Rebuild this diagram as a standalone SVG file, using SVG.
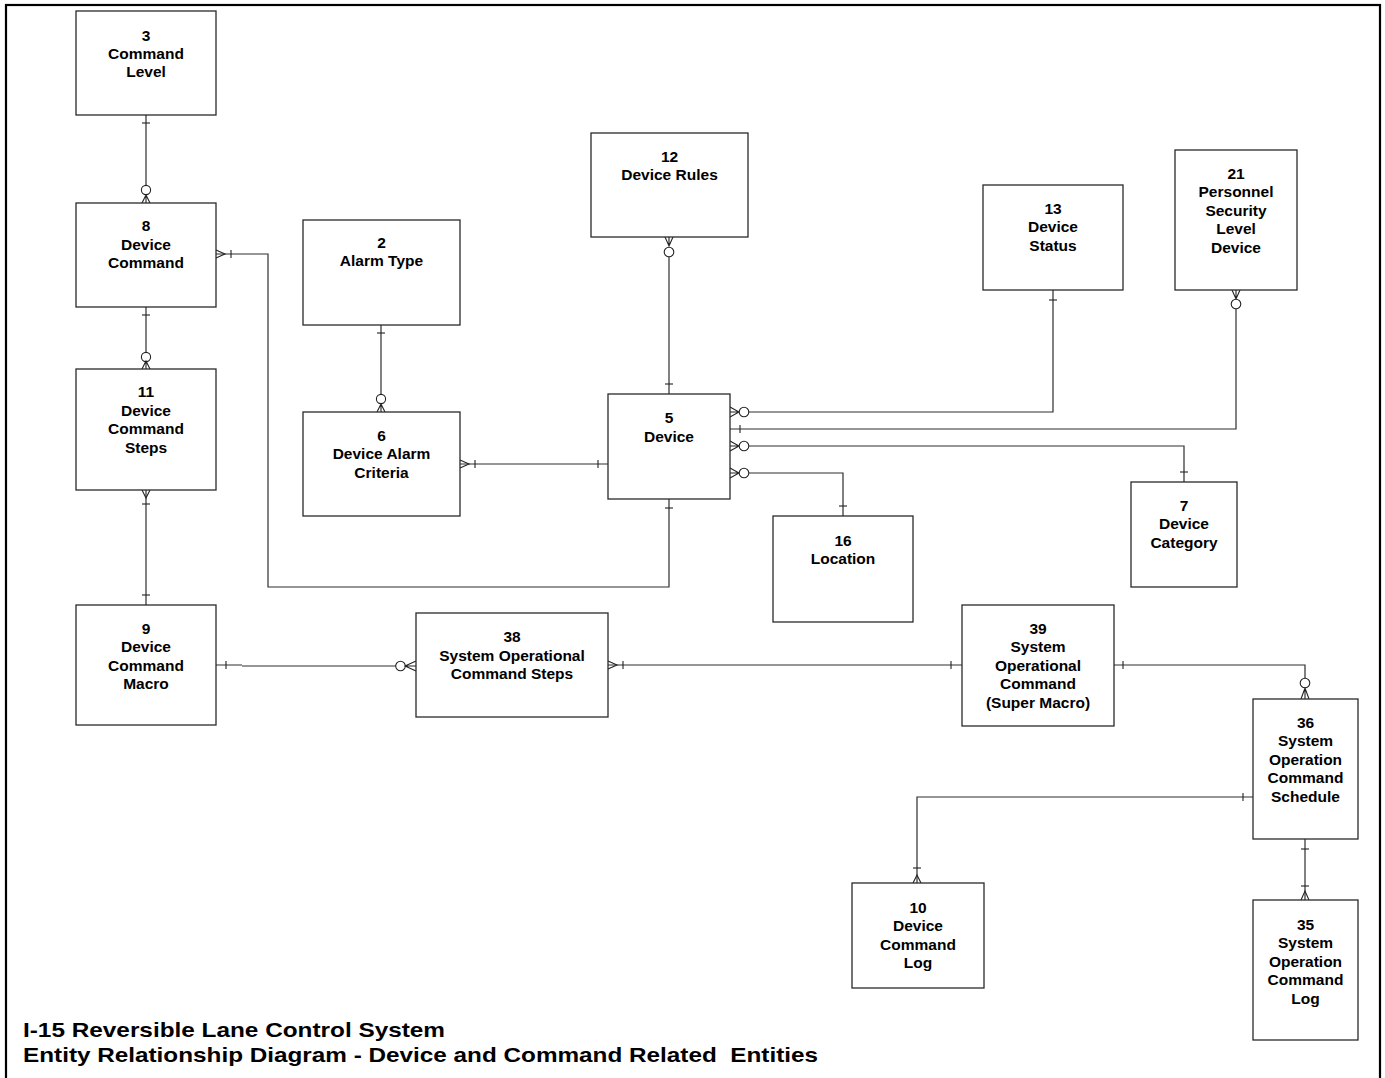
<svg xmlns="http://www.w3.org/2000/svg" width="1385" height="1078" viewBox="0 0 1385 1078">
<style>
.box{fill:#fff;stroke:#2a2a2a;stroke-width:1.3}
.t{font-family:"Liberation Sans",Arial,sans-serif;font-weight:bold;font-size:15.5px;fill:#000;text-anchor:middle}
.title{font-family:"Liberation Sans",Arial,sans-serif;font-weight:bold;font-size:21px;fill:#000}
.ln{fill:none;stroke:#2e2e2e;stroke-width:1.2}
.mk{fill:none;stroke:#222;stroke-width:1.1}
.o{fill:#fff;stroke:#222;stroke-width:1.1}
</style>
<rect x="0" y="0" width="1385" height="1078" fill="#fff"/>
<rect x="6" y="5" width="1374" height="1090" fill="none" stroke="#000" stroke-width="2.2"/>

<g id="connectors">
  <g id="c-3-8">
    <path class="ln" d="M146,115 V186"/>
    <path class="mk" d="M142,123 H150"/>
    <circle class="o" cx="146" cy="190" r="4.6"/>
    <path class="mk" d="M142,203 L146,195 L150,203 M146,195 V203"/>
  </g>
  <g id="c-8-11">
    <path class="ln" d="M146,307 V352"/>
    <path class="mk" d="M142,315 H150"/>
    <circle class="o" cx="146" cy="357" r="4.6"/>
    <path class="mk" d="M142,369 L146,361 L150,369 M146,361 V369"/>
  </g>
  <g id="c-11-9">
    <path class="ln" d="M146,490 V605"/>
    <path class="mk" d="M142,490 L146,498 L150,490"/>
    <path class="mk" d="M142,504 H150"/>
    <path class="mk" d="M142,595 H150"/>
  </g>
  <g id="c-8-5">
    <path class="ln" d="M216,254 H268 V587 H669 V499"/>
    <path class="mk" d="M216,250 L225,254 L216,258"/>
    <path class="mk" d="M231,250 V258"/>
    <path class="mk" d="M665,508 H673"/>
  </g>
  <g id="c-2-6">
    <path class="ln" d="M381,325 V395"/>
    <path class="mk" d="M377,333 H385"/>
    <circle class="o" cx="381" cy="399" r="4.6"/>
    <path class="mk" d="M377,412 L381,404 L385,412 M381,404 V412"/>
  </g>
  <g id="c-6-5">
    <path class="ln" d="M460,464 H608"/>
    <path class="mk" d="M460,460 L469,464 L460,468"/>
    <path class="mk" d="M475,460 V468"/>
    <path class="mk" d="M598,460 V468"/>
  </g>
  <g id="c-12-5">
    <path class="ln" d="M669,257 V394"/>
    <path class="mk" d="M665,237 L669,246 L673,237 M669,237 V246"/>
    <circle class="o" cx="669" cy="252" r="4.8"/>
    <path class="mk" d="M665,384 H673"/>
  </g>
  <g id="c-5-13">
    <path class="ln" d="M748.5,412 H1053 V290"/>
    <path class="mk" d="M730,407 L739,412 L730,417 M730,412 H739"/>
    <circle class="o" cx="744" cy="412" r="4.8"/>
    <path class="mk" d="M1049,300 H1057"/>
  </g>
  <g id="c-5-21">
    <path class="ln" d="M730,429 H1236 V308.5"/>
    <path class="mk" d="M740,425 V433"/>
    <path class="mk" d="M1232,290 L1236,299 L1240,290 M1236,290 V299"/>
    <circle class="o" cx="1236" cy="304" r="4.8"/>
  </g>
  <g id="c-5-7">
    <path class="ln" d="M748.5,446 H1184 V482"/>
    <path class="mk" d="M730,441 L739,446 L730,451 M730,446 H739"/>
    <circle class="o" cx="744" cy="446" r="4.8"/>
    <path class="mk" d="M1180,472 H1188"/>
  </g>
  <g id="c-5-16">
    <path class="ln" d="M748.5,473 H843 V516"/>
    <path class="mk" d="M730,468 L739,473 L730,478 M730,473 H739"/>
    <circle class="o" cx="744" cy="473" r="4.8"/>
    <path class="mk" d="M839,506 H847"/>
  </g>
  <g id="c-9-38">
    <path class="ln" d="M216,665 H242 M242,666 H396"/>
    <path class="mk" d="M226,661 V669"/>
    <circle class="o" cx="400.5" cy="666" r="4.8"/>
    <path class="mk" d="M416,661 L405,666 L416,671 M405,666 H416"/>
  </g>
  <g id="c-38-39">
    <path class="ln" d="M608,665 H962"/>
    <path class="mk" d="M608,661 L617,665 L608,669"/>
    <path class="mk" d="M623,661 V669"/>
    <path class="mk" d="M951,661 V669"/>
  </g>
  <g id="c-39-36">
    <path class="ln" d="M1114,665 H1305 V678.5"/>
    <path class="mk" d="M1123,661 V669"/>
    <circle class="o" cx="1305" cy="683" r="4.8"/>
    <path class="mk" d="M1301,699 L1305,688 L1309,699 M1305,688 V699"/>
  </g>
  <g id="c-36-10">
    <path class="ln" d="M1253,797 H917 V883"/>
    <path class="mk" d="M1243,793 V801"/>
    <path class="mk" d="M913,868 H921"/>
    <path class="mk" d="M913,883 L917,875 L921,883"/>
  </g>
  <g id="c-36-35">
    <path class="ln" d="M1305,839 V900"/>
    <path class="mk" d="M1301,849 H1309"/>
    <path class="mk" d="M1301,886 H1309"/>
    <path class="mk" d="M1301,900 L1305,891 L1309,900"/>
  </g>
</g>

<g id="n3"><rect class="box" x="76" y="11" width="140" height="104"/>
  <text class="t" x="146" y="40.5">3</text><text class="t" x="146" y="58.5">Command</text><text class="t" x="146" y="76.5">Level</text></g>
<g id="n8"><rect class="box" x="76" y="203" width="140" height="104"/>
  <text class="t" x="146" y="231">8</text><text class="t" x="146" y="249.5">Device</text><text class="t" x="146" y="268">Command</text></g>
<g id="n11"><rect class="box" x="76" y="369" width="140" height="121"/>
  <text class="t" x="146" y="397">11</text><text class="t" x="146" y="415.5">Device</text><text class="t" x="146" y="434">Command</text><text class="t" x="146" y="452.5">Steps</text></g>
<g id="n9"><rect class="box" x="76" y="605" width="140" height="120"/>
  <text class="t" x="146" y="633.5">9</text><text class="t" x="146" y="652">Device</text><text class="t" x="146" y="670.5">Command</text><text class="t" x="146" y="689">Macro</text></g>
<g id="n2"><rect class="box" x="303" y="220" width="157" height="105"/>
  <text class="t" x="381.5" y="247.5">2</text><text class="t" x="381.5" y="266">Alarm Type</text></g>
<g id="n6"><rect class="box" x="303" y="412" width="157" height="104"/>
  <text class="t" x="381.5" y="440.5">6</text><text class="t" x="381.5" y="459">Device Alarm</text><text class="t" x="381.5" y="477.5">Criteria</text></g>
<g id="n12"><rect class="box" x="591" y="133" width="157" height="104"/>
  <text class="t" x="669.5" y="161.5">12</text><text class="t" x="669.5" y="180">Device Rules</text></g>
<g id="n5"><rect class="box" x="608" y="394" width="122" height="105"/>
  <text class="t" x="669" y="423">5</text><text class="t" x="669" y="442">Device</text></g>
<g id="n13"><rect class="box" x="983" y="185" width="140" height="105"/>
  <text class="t" x="1053" y="213.5">13</text><text class="t" x="1053" y="232">Device</text><text class="t" x="1053" y="250.5">Status</text></g>
<g id="n21"><rect class="box" x="1175" y="150" width="122" height="140"/>
  <text class="t" x="1236" y="178.5">21</text><text class="t" x="1236" y="197">Personnel</text><text class="t" x="1236" y="215.5">Security</text><text class="t" x="1236" y="234">Level</text><text class="t" x="1236" y="252.5">Device</text></g>
<g id="n7"><rect class="box" x="1131" y="482" width="106" height="105"/>
  <text class="t" x="1184" y="510.5">7</text><text class="t" x="1184" y="529">Device</text><text class="t" x="1184" y="547.5">Category</text></g>
<g id="n16"><rect class="box" x="773" y="516" width="140" height="106"/>
  <text class="t" x="843" y="545.5">16</text><text class="t" x="843" y="564">Location</text></g>
<g id="n38"><rect class="box" x="416" y="613" width="192" height="104"/>
  <text class="t" x="512" y="642">38</text><text class="t" x="512" y="660.5">System Operational</text><text class="t" x="512" y="679">Command Steps</text></g>
<g id="n39"><rect class="box" x="962" y="605" width="152" height="121"/>
  <text class="t" x="1038" y="633.5">39</text><text class="t" x="1038" y="652">System</text><text class="t" x="1038" y="670.5">Operational</text><text class="t" x="1038" y="689">Command</text><text class="t" x="1038" y="708">(Super Macro)</text></g>
<g id="n36"><rect class="box" x="1253" y="699" width="105" height="140"/>
  <text class="t" x="1305.5" y="727.5">36</text><text class="t" x="1305.5" y="746">System</text><text class="t" x="1305.5" y="764.5">Operation</text><text class="t" x="1305.5" y="783">Command</text><text class="t" x="1305.5" y="801.5">Schedule</text></g>
<g id="n10"><rect class="box" x="852" y="883" width="132" height="105"/>
  <text class="t" x="918" y="912.5">10</text><text class="t" x="918" y="931">Device</text><text class="t" x="918" y="949.5">Command</text><text class="t" x="918" y="968">Log</text></g>
<g id="n35"><rect class="box" x="1253" y="900" width="105" height="140"/>
  <text class="t" x="1305.5" y="929.5">35</text><text class="t" x="1305.5" y="948">System</text><text class="t" x="1305.5" y="966.5">Operation</text><text class="t" x="1305.5" y="985">Command</text><text class="t" x="1305.5" y="1003.5">Log</text></g>

<g id="title">
  <text class="title" x="23" y="1036.5" textLength="422" lengthAdjust="spacingAndGlyphs">I-15 Reversible Lane Control System</text>
  <text class="title" x="23" y="1062" textLength="795" lengthAdjust="spacingAndGlyphs" xml:space="preserve">Entity Relationship Diagram - Device and Command Related  Entities</text>
</g>
</svg>
